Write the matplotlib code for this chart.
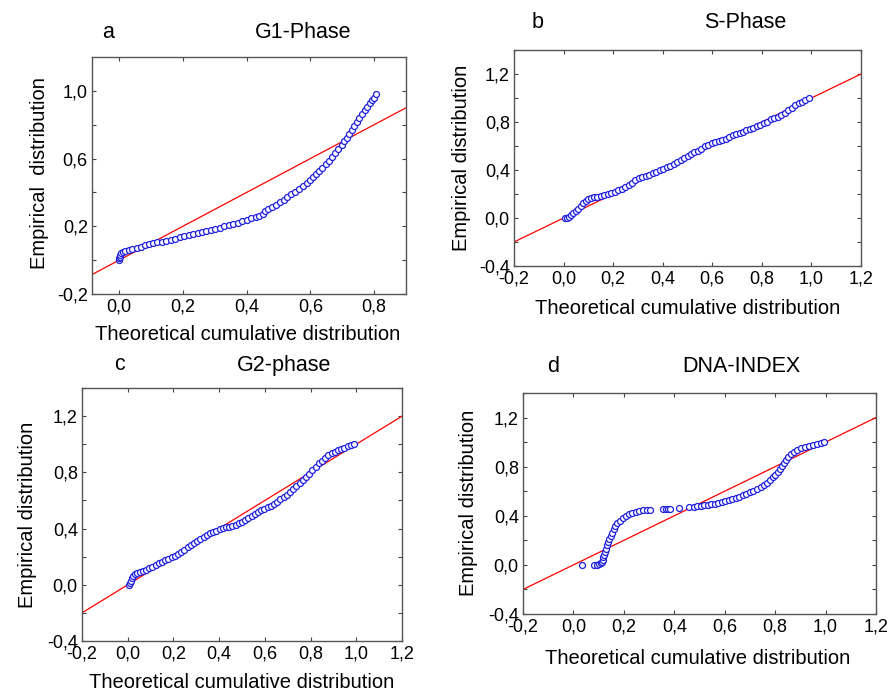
import matplotlib
matplotlib.use("Agg")
import matplotlib.pyplot as plt
from matplotlib.ticker import FixedLocator, FuncFormatter

plt.rcParams['font.family'] = ['Liberation Sans', 'DejaVu Sans']

# panel a: G1-Phase
g1_x = [0.000, 0.000, 0.002, 0.004, 0.007, 0.012, 0.020, 0.030, 0.042, 0.055,
        0.068, 0.080, 0.093, 0.106, 0.120, 0.134, 0.148, 0.162, 0.176, 0.190,
        0.204, 0.218, 0.232, 0.246, 0.260, 0.274, 0.288, 0.302, 0.316, 0.330,
        0.344, 0.358, 0.372, 0.386, 0.400, 0.414, 0.428, 0.440, 0.450, 0.458,
        0.468, 0.480, 0.492, 0.504, 0.516, 0.528, 0.540, 0.552, 0.564, 0.576,
        0.588, 0.598, 0.608, 0.618, 0.628, 0.638, 0.648, 0.658, 0.668, 0.678,
        0.688, 0.698, 0.706, 0.714, 0.722, 0.730, 0.738, 0.746, 0.754, 0.762,
        0.770, 0.778, 0.786, 0.794, 0.800, 0.805]
g1_y = [0.000, 0.010, 0.020, 0.030, 0.040, 0.048, 0.055, 0.062, 0.068, 0.074,
        0.080, 0.087, 0.093, 0.099, 0.105, 0.110, 0.114, 0.120, 0.127, 0.134,
        0.140, 0.146, 0.152, 0.158, 0.165, 0.172, 0.178, 0.184, 0.192, 0.200,
        0.207, 0.214, 0.222, 0.230, 0.238, 0.246, 0.254, 0.262, 0.275, 0.288,
        0.300, 0.314, 0.328, 0.342, 0.356, 0.372, 0.388, 0.404, 0.420, 0.436,
        0.454, 0.472, 0.490, 0.508, 0.526, 0.546, 0.566, 0.588, 0.610, 0.632,
        0.656, 0.680, 0.702, 0.724, 0.746, 0.770, 0.794, 0.818, 0.842, 0.864,
        0.886, 0.906, 0.926, 0.946, 0.960, 0.980]

# panel b: S-Phase
s_x = [0.005, 0.012, 0.020, 0.030, 0.040, 0.050, 0.060, 0.070, 0.080, 0.090,
       0.100, 0.112, 0.124, 0.136, 0.150, 0.164, 0.178, 0.192, 0.206, 0.220,
       0.234, 0.248, 0.262, 0.276, 0.290, 0.304, 0.318, 0.332, 0.346, 0.360,
       0.374, 0.388, 0.402, 0.416, 0.430, 0.444, 0.458, 0.472, 0.486, 0.500,
       0.514, 0.528, 0.542, 0.556, 0.570, 0.584, 0.598, 0.612, 0.626, 0.640,
       0.654, 0.668, 0.682, 0.696, 0.710, 0.724, 0.738, 0.752, 0.766, 0.780,
       0.794, 0.808, 0.822, 0.836, 0.850, 0.864, 0.878, 0.892, 0.906, 0.920,
       0.934, 0.948, 0.962, 0.976, 0.990]
s_y = [0.000, 0.004, 0.012, 0.028, 0.045, 0.062, 0.078, 0.098, 0.122, 0.144,
       0.158, 0.168, 0.174, 0.178, 0.182, 0.188, 0.196, 0.206, 0.218, 0.230,
       0.244, 0.258, 0.272, 0.292, 0.318, 0.330, 0.340, 0.352, 0.362, 0.374,
       0.386, 0.400, 0.412, 0.424, 0.436, 0.450, 0.464, 0.480, 0.498, 0.516,
       0.532, 0.546, 0.562, 0.578, 0.596, 0.612, 0.624, 0.632, 0.640, 0.650,
       0.660, 0.672, 0.688, 0.702, 0.712, 0.720, 0.730, 0.740, 0.752, 0.764,
       0.776, 0.788, 0.800, 0.822, 0.834, 0.842, 0.856, 0.876, 0.898, 0.920,
       0.940, 0.956, 0.970, 0.982, 0.998]

# panel c: G2-phase
g2_x = [0.005, 0.010, 0.014, 0.018, 0.024, 0.032, 0.042, 0.054, 0.066, 0.080,
        0.094, 0.108, 0.122, 0.136, 0.150, 0.164, 0.178, 0.192, 0.206, 0.220,
        0.234, 0.248, 0.262, 0.276, 0.290, 0.304, 0.318, 0.332, 0.346, 0.360,
        0.374, 0.388, 0.402, 0.416, 0.430, 0.444, 0.458, 0.472, 0.486, 0.500,
        0.514, 0.528, 0.542, 0.556, 0.570, 0.584, 0.598, 0.612, 0.626, 0.640,
        0.654, 0.668, 0.682, 0.696, 0.710, 0.724, 0.738, 0.752, 0.766, 0.780,
        0.794, 0.808, 0.822, 0.836, 0.850, 0.864, 0.878, 0.892, 0.906, 0.920,
        0.934, 0.948, 0.962, 0.976, 0.988]
g2_y = [0.000, 0.010, 0.025, 0.045, 0.062, 0.074, 0.082, 0.090, 0.098, 0.108,
        0.118, 0.128, 0.140, 0.152, 0.164, 0.176, 0.186, 0.196, 0.206, 0.216,
        0.230, 0.248, 0.268, 0.284, 0.298, 0.312, 0.326, 0.340, 0.354, 0.366,
        0.376, 0.386, 0.396, 0.402, 0.408, 0.414, 0.420, 0.428, 0.436, 0.446,
        0.460, 0.476, 0.490, 0.506, 0.520, 0.532, 0.542, 0.552, 0.562, 0.576,
        0.592, 0.608, 0.624, 0.640, 0.658, 0.678, 0.700, 0.722, 0.744, 0.768,
        0.790, 0.814, 0.840, 0.864, 0.884, 0.904, 0.920, 0.934, 0.946, 0.956,
        0.966, 0.976, 0.986, 0.994, 1.000]

# panel d: DNA-INDEX
dna_x = [0.035, 0.081, 0.095, 0.102, 0.108, 0.112, 0.116, 0.119, 0.122, 0.126,
         0.130, 0.134, 0.138, 0.143, 0.148, 0.153, 0.159, 0.166, 0.174, 0.184,
         0.195, 0.207, 0.220, 0.234, 0.248, 0.262, 0.276, 0.290, 0.302, 0.357,
         0.366, 0.374, 0.384, 0.420, 0.458, 0.478, 0.490, 0.504, 0.518, 0.532,
         0.546, 0.560, 0.574, 0.588, 0.602, 0.616, 0.630, 0.644, 0.658, 0.672,
         0.686, 0.700, 0.714, 0.728, 0.742, 0.756, 0.768, 0.780, 0.790, 0.800,
         0.810, 0.818, 0.826, 0.834, 0.842, 0.852, 0.862, 0.874, 0.888, 0.902,
         0.918, 0.934, 0.950, 0.966, 0.980, 0.994]
dna_y = [0.000, 0.000, 0.002, 0.006, 0.014, 0.026, 0.042, 0.062, 0.082, 0.106,
         0.132, 0.158, 0.184, 0.210, 0.236, 0.262, 0.290, 0.314, 0.338, 0.360,
         0.380, 0.396, 0.412, 0.426, 0.434, 0.440, 0.444, 0.447, 0.450, 0.454,
         0.455, 0.456, 0.458, 0.464, 0.470, 0.474, 0.476, 0.480, 0.484, 0.488,
         0.492, 0.498, 0.504, 0.512, 0.520, 0.528, 0.536, 0.546, 0.556, 0.566,
         0.578, 0.590, 0.602, 0.616, 0.632, 0.650, 0.668, 0.690, 0.712, 0.734,
         0.758, 0.782, 0.806, 0.830, 0.854, 0.878, 0.900, 0.920, 0.938, 0.950,
         0.960, 0.970, 0.978, 0.986, 0.994, 1.000]

W, H = 889, 693


def fx(px):
    return px / W


def fy(py):
    return 1 - py / H


def comma(v, pos):
    return f"{v:.1f}".replace('.', ',')


def panel(rect, xs, ys, xlim, ylim, xmajor, ymajor, minor):
    l, t, r, b = rect
    ax = fig.add_axes([fx(l), fy(b), fx(r - l), (b - t) / H])
    ax.plot([-1, 2], [-1, 2], color='red', lw=0.9, zorder=2)
    ax.plot(xs, ys, 'o', ms=4.3, mfc='white', mec='#1f1fe0', mew=0.9, zorder=3)
    ax.set_xlim(*xlim)
    ax.set_ylim(*ylim)
    ax.xaxis.set_major_locator(FixedLocator(xmajor))
    ax.yaxis.set_major_locator(FixedLocator(ymajor))
    ax.yaxis.set_minor_locator(FixedLocator(minor))
    ax.xaxis.set_major_formatter(FuncFormatter(comma))
    ax.yaxis.set_major_formatter(FuncFormatter(comma))
    ax.tick_params(which='both', direction='in', top=True, right=True,
                   length=3, width=0.8, color='#444444', labelsize=13, pad=3)
    for s in ax.spines.values():
        s.set_color('#555555')
        s.set_linewidth(1.0)
    return ax


fig = plt.figure(figsize=(W / 100, H / 100), dpi=100)

x02 = [-0.2, 0.0, 0.2, 0.4, 0.6, 0.8, 1.0, 1.2]
y04 = [-0.4, 0.0, 0.4, 0.8, 1.2]
ymin04 = [-0.2, 0.2, 0.6, 1.0, 1.4]

panel((92, 57, 406, 294), g1_x, g1_y, (-0.085, 0.9), (-0.2, 1.2),
      [0.0, 0.2, 0.4, 0.6, 0.8], [-0.2, 0.2, 0.6, 1.0], [0.0, 0.4, 0.8])
panel((514, 50, 861, 266), s_x, s_y, (-0.2, 1.2), (-0.4, 1.4),
      x02, y04, ymin04)
panel((82, 388, 402, 641), g2_x, g2_y, (-0.2, 1.2), (-0.4, 1.4),
      x02, y04, ymin04)
panel((523, 393, 876, 614), dna_x, dna_y, (-0.2, 1.2), (-0.4, 1.4),
      x02, y04, ymin04)

# panel letters and titles
for px, py, s in [(108, 32, 'a'), (303, 32, 'G1-Phase'),
                  (538, 23, 'b'), (745, 23, 'S-Phase'),
                  (119, 365, 'c'), (284, 365, 'G2-phase'),
                  (553, 367, 'd'), (741, 367, 'DNA-INDEX')]:
    fig.text(fx(px), fy(py), s, fontsize=15.5, ha='center', va='center')

xlab = 'Theoretical cumulative distribution'
for px, py in [(248, 335), (688, 308), (242, 683), (698, 658)]:
    fig.text(fx(px), fy(py), xlab, fontsize=14.5, ha='center', va='center')

for px, py, s in [(40, 173, 'Empirical  distribution'),
                  (462, 158, 'Empirical distribution'),
                  (28, 515, 'Empirical distribution'),
                  (469, 503, 'Empirical distribution')]:
    fig.text(fx(px), fy(py), s, fontsize=14.5, ha='center', va='center',
             rotation=90)

fig.savefig('out.png', dpi=100)
